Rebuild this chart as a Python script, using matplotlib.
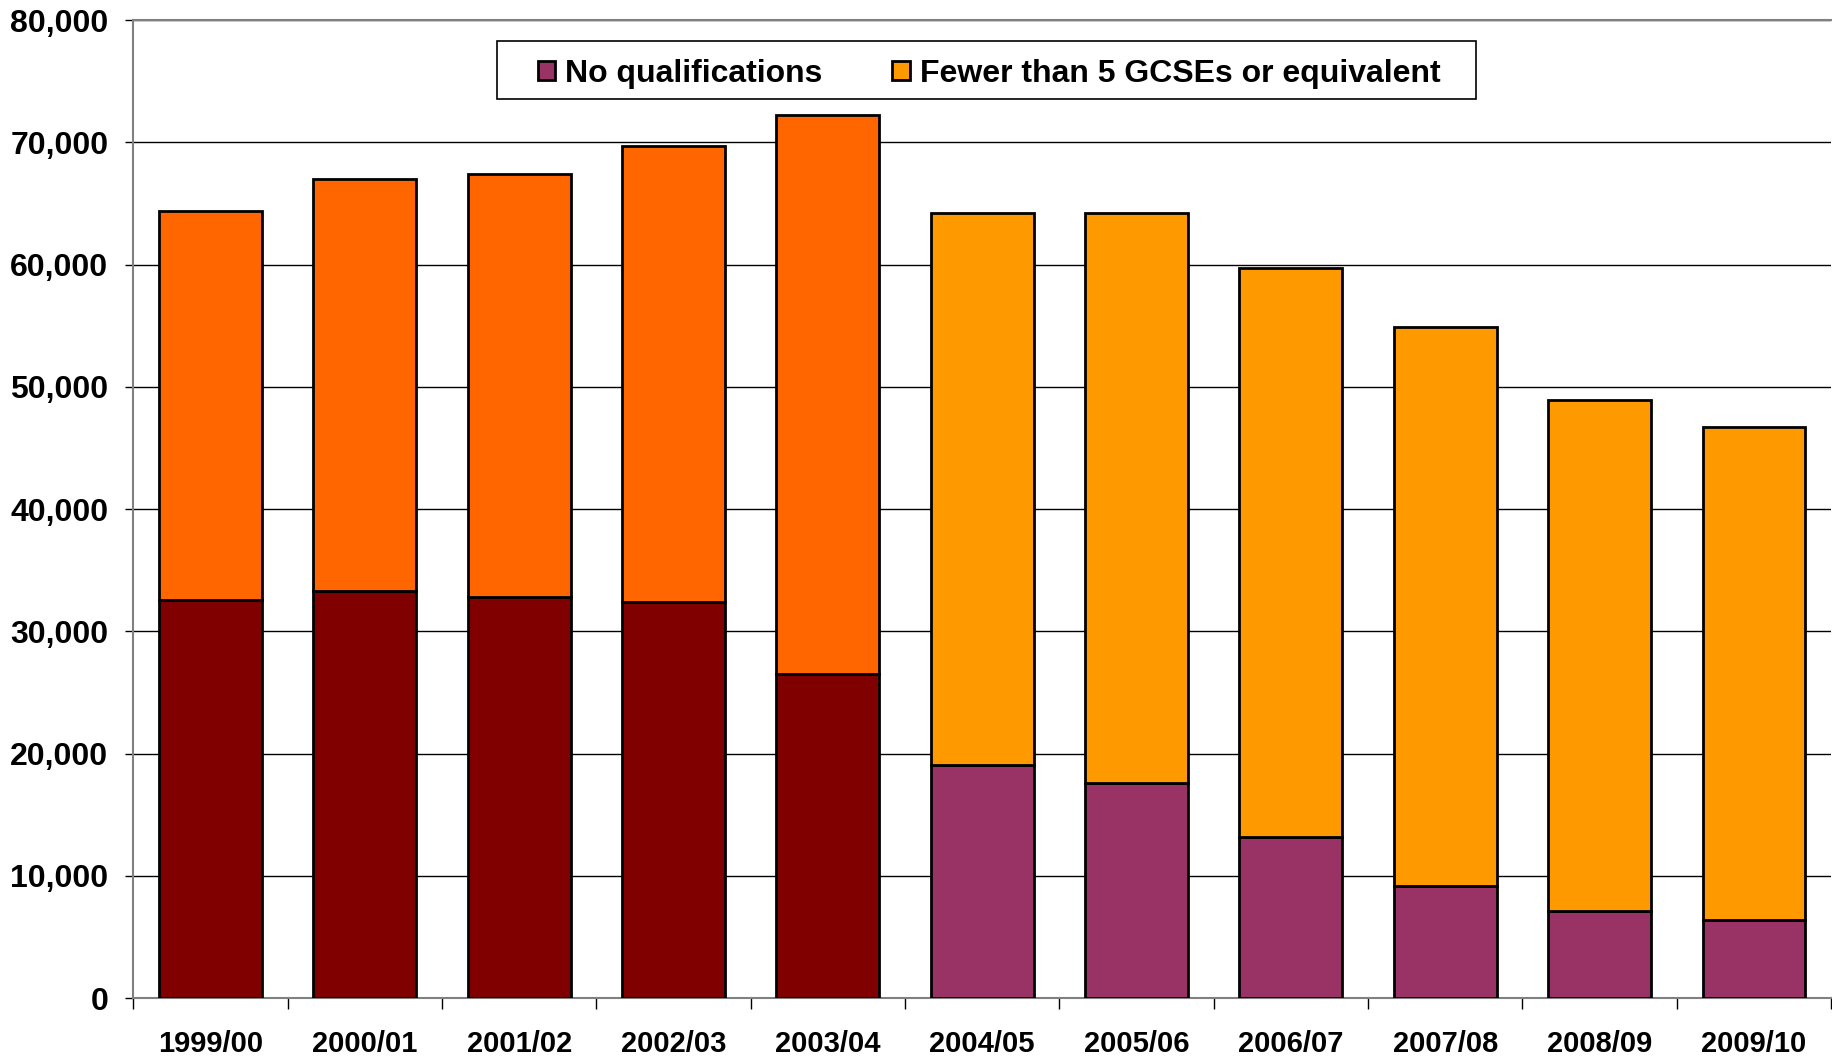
import matplotlib.pyplot as plt
from matplotlib.patches import Patch, Rectangle
from matplotlib.ticker import FuncFormatter, MultipleLocator

plt.rcParams['font.family'] = ['Liberation Sans', 'DejaVu Sans']
plt.rcParams['font.weight'] = 'bold'

# Dati
years = ["1999/00", "2000/01", "2001/02", "2002/03", "2003/04", "2004/05",
         "2005/06", "2006/07", "2007/08", "2008/09", "2009/10"]
no_qual = [32600, 33300, 32800, 32400, 26500, 19100, 17600, 13200, 9200, 7100, 6400]
totals = [64400, 67000, 67400, 69700, 72200, 64200, 64200, 59700, 54900, 48900, 46700]
fewer_gcse = [t - n for t, n in zip(totals, no_qual)]

# colori diversi per la serie precedente al 2004/05
bottom_colors = ['#800000'] * 5 + ['#993366'] * 6
top_colors = ['#FF6600'] * 5 + ['#FF9900'] * 6

fig = plt.figure(figsize=(18.33, 10.59), dpi=100)
ax = fig.add_axes([0.0727, 0.0574, 0.9263, 0.9236])

x = list(range(len(years)))
ax.bar(x, no_qual, width=0.667, color=bottom_colors, edgecolor='black', linewidth=2, zorder=3)
ax.bar(x, fewer_gcse, bottom=no_qual, width=0.667, color=top_colors, edgecolor='black',
       linewidth=2, zorder=3)

ax.set_xlim(-0.5, len(years) - 0.5)
ax.set_ylim(0, 80000)
ax.yaxis.set_major_locator(MultipleLocator(10000))
ax.yaxis.set_major_formatter(FuncFormatter(lambda v, p: f"{int(v):,}"))
ax.yaxis.grid(True, color='black', linewidth=1, zorder=0)
ax.set_axisbelow(True)

ax.set_xticks(x)
ax.set_xticklabels(years)
ax.set_xticks([i - 0.5 for i in range(len(years) + 1)], minor=True)
ax.tick_params(axis='x', which='major', length=0, pad=23, labelsize=21)
ax.tick_params(axis='x', which='minor', length=8, width=1, color='black', direction='out')
ax.tick_params(axis='y', length=6, width=1, pad=12, labelsize=23, color='black')

for s in ['left', 'bottom', 'top']:
    ax.spines[s].set_color('#808080')
    ax.spines[s].set_linewidth(1.5)
ax.spines['right'].set_visible(False)

# riquadro della legenda disegnato a parte (più largo che alto)
fig.patches.append(Rectangle((0.2710, 0.9062), 0.5344, 0.0552, transform=fig.transFigure,
                             facecolor='white', edgecolor='black', linewidth=1.2, zorder=5))

handles = [Patch(facecolor='#993366', edgecolor='black', linewidth=2, label='No qualifications'),
           Patch(facecolor='#FF9900', edgecolor='black', linewidth=2, label='Fewer than 5 GCSEs or equivalent')]
leg = fig.legend(handles=handles, loc='center', bbox_to_anchor=(0.5395, 0.9305), ncol=2,
                 fontsize=23, frameon=False, handlelength=0.55, handleheight=0.55,
                 handletextpad=0.3, columnspacing=2.2, borderpad=0.2)
leg.set_zorder(6)

fig.savefig('out.png', dpi=100)
